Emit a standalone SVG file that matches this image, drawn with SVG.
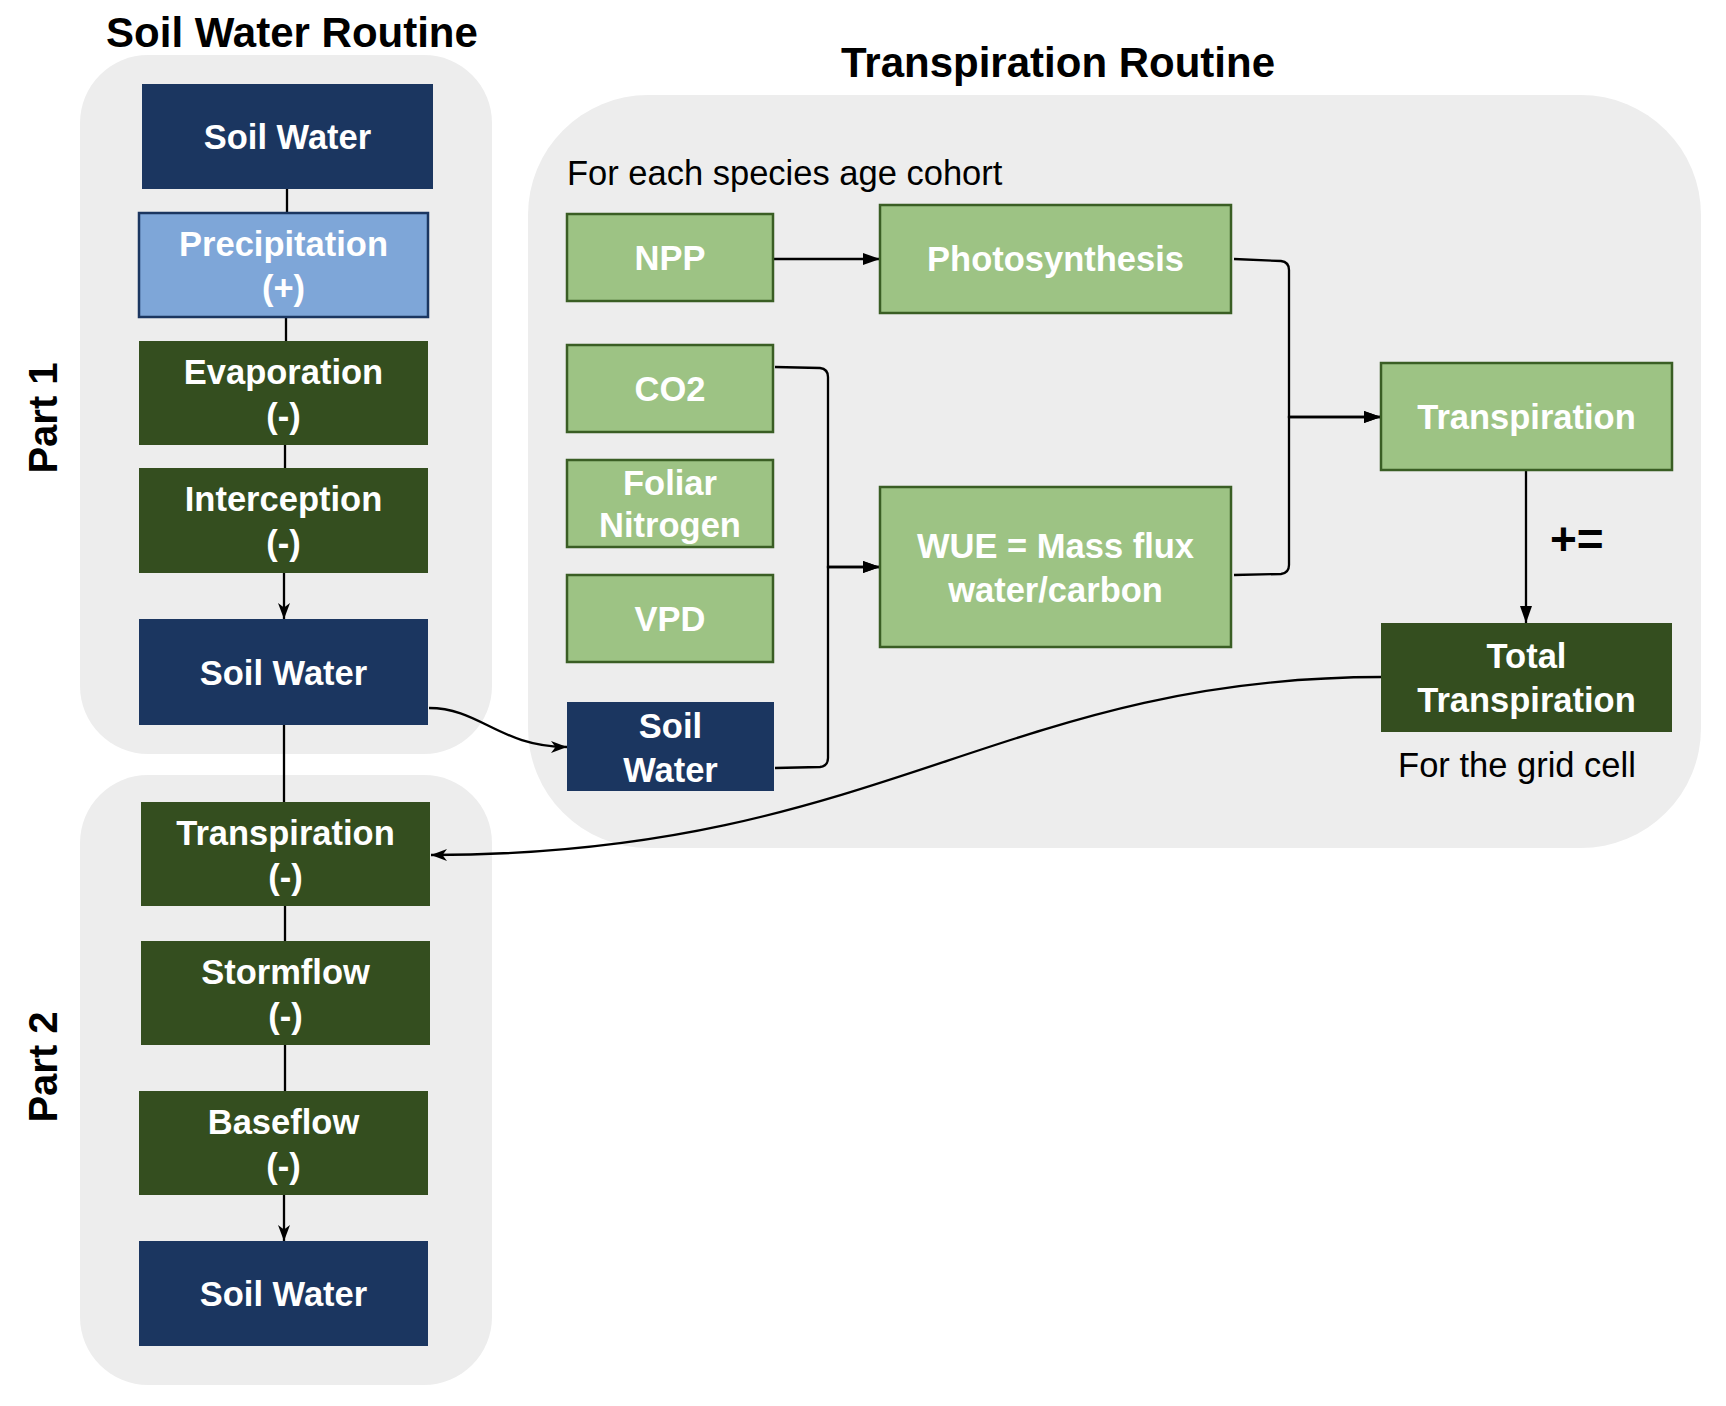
<svg xmlns="http://www.w3.org/2000/svg" width="1726" height="1406" viewBox="0 0 1726 1406">
<style>
.panel{fill:#ededed}
.title{font-family:"Liberation Sans",Arial,sans-serif;font-weight:bold;font-size:42px;fill:#000;text-anchor:middle}
.part{font-family:"Liberation Sans",Arial,sans-serif;font-weight:bold;font-size:40px;fill:#000;text-anchor:middle}
.note{font-family:"Liberation Sans",Arial,sans-serif;font-size:34.5px;fill:#000}
.lbl{font-family:"Liberation Sans",Arial,sans-serif;font-weight:bold;font-size:34.5px;fill:#fff;text-anchor:middle}
.navy{fill:#1b3660}
.lblue{fill:#7ea6d8;stroke:#1b3660;stroke-width:2.5}
.dgreen{fill:#344e1f}
.lgreen{fill:#9dc384;stroke:#3a5e24;stroke-width:2.5}
.edge{fill:none;stroke:#000;stroke-width:2.3}
</style>
<defs>
<marker id="block" markerUnits="userSpaceOnUse" markerWidth="17" markerHeight="12" refX="17" refY="6" orient="auto"><path d="M0,0 L17,6 L0,12 z" fill="#000"/></marker>
<marker id="classic" markerUnits="userSpaceOnUse" markerWidth="16" markerHeight="12" refX="16" refY="6" orient="auto"><path d="M0,0 L16,6 L0,12 L4.5,6 z" fill="#000"/></marker>
</defs>
<rect width="1726" height="1406" fill="#fff"/>
<g id="panels">
<rect class="panel" x="80" y="55" width="412" height="699" rx="68"/>
<rect class="panel" x="80" y="775" width="412" height="610" rx="68"/>
<rect class="panel" x="528" y="95" width="1173" height="753" rx="120"/>
</g>
<g id="labels">
<text class="title" x="292" y="47">Soil Water Routine</text>
<text class="title" x="1058" y="77">Transpiration Routine</text>
<text class="part" transform="translate(57,418) rotate(-90)">Part 1</text>
<text class="part" transform="translate(57,1067) rotate(-90)">Part 2</text>
<text class="note" x="567" y="185">For each species age cohort</text>
<text class="note" x="1517" y="777" text-anchor="middle">For the grid cell</text>
<text x="1550" y="555" style="font-family:'Liberation Sans',Arial,sans-serif;font-weight:bold;font-size:46px;fill:#000">+=</text>
</g>
<g id="connectors">
<path class="edge" d="M287,189 L287,213"/>
<path class="edge" d="M286,317 L286,341"/>
<path class="edge" d="M285,445 L285,468"/>
<path class="edge" d="M284,573 L284,619" marker-end="url(#classic)"/>
<path class="edge" d="M284,725 L284,802"/>
<path class="edge" d="M285,906 L285,941"/>
<path class="edge" d="M285,1045 L285,1091"/>
<path class="edge" d="M284,1195 L284,1241" marker-end="url(#classic)"/>
<path class="edge" d="M429,708 C480,708 500,747 567,747" marker-end="url(#classic)"/>
<path class="edge" d="M1382,677 C1000,677 880,855 431,855" marker-end="url(#classic)"/>
<path class="edge" d="M773,259 L880,259" marker-end="url(#block)"/>
<path class="edge" d="M775,367 L820,368 Q828,369 828,377 L828,567 L880,567" marker-end="url(#block)"/>
<path class="edge" d="M775,768 L820,767 Q828,766 828,758 L828,567 L880,567" marker-end="url(#block)"/>
<path class="edge" d="M1234,259 L1281,261 Q1289,262 1289,270 L1289,417 L1381,417" marker-end="url(#block)"/>
<path class="edge" d="M1234,575 L1281,574 Q1289,573 1289,565 L1289,417 L1381,417" marker-end="url(#block)"/>
<path class="edge" d="M1526,470 L1526,623" marker-end="url(#block)"/>
</g>
<g id="n-soilwater-1"><rect class="navy" x="142" y="84" width="291" height="105"/><text class="lbl" x="287.5" y="149">Soil Water</text></g>
<g id="n-precipitation"><rect class="lblue" x="139" y="213" width="289" height="104"/><text class="lbl" x="283.5" y="256">Precipitation</text><text class="lbl" x="283.5" y="300">(+)</text></g>
<g id="n-evaporation"><rect class="dgreen" x="139" y="341" width="289" height="104"/><text class="lbl" x="283.5" y="384">Evaporation</text><text class="lbl" x="283.5" y="428">(-)</text></g>
<g id="n-interception"><rect class="dgreen" x="139" y="468" width="289" height="105"/><text class="lbl" x="283.5" y="511">Interception</text><text class="lbl" x="283.5" y="555">(-)</text></g>
<g id="n-soilwater-2"><rect class="navy" x="139" y="619" width="289" height="106"/><text class="lbl" x="283.5" y="685">Soil Water</text></g>
<g id="n-transpiration-minus"><rect class="dgreen" x="141" y="802" width="289" height="104"/><text class="lbl" x="285.5" y="845">Transpiration</text><text class="lbl" x="285.5" y="889">(-)</text></g>
<g id="n-stormflow"><rect class="dgreen" x="141" y="941" width="289" height="104"/><text class="lbl" x="285.5" y="984">Stormflow</text><text class="lbl" x="285.5" y="1028">(-)</text></g>
<g id="n-baseflow"><rect class="dgreen" x="139" y="1091" width="289" height="104"/><text class="lbl" x="283.5" y="1134">Baseflow</text><text class="lbl" x="283.5" y="1178">(-)</text></g>
<g id="n-soilwater-3"><rect class="navy" x="139" y="1241" width="289" height="105"/><text class="lbl" x="283.5" y="1306">Soil Water</text></g>
<g id="n-npp"><rect class="lgreen" x="567" y="214" width="206" height="87"/><text class="lbl" x="670" y="270">NPP</text></g>
<g id="n-co2"><rect class="lgreen" x="567" y="345" width="206" height="87"/><text class="lbl" x="670" y="401">CO2</text></g>
<g id="n-foliar"><rect class="lgreen" x="567" y="460" width="206" height="87"/><text class="lbl" x="670" y="495">Foliar</text><text class="lbl" x="670" y="537">Nitrogen</text></g>
<g id="n-vpd"><rect class="lgreen" x="567" y="575" width="206" height="87"/><text class="lbl" x="670" y="631">VPD</text></g>
<g id="n-soilwater-right"><rect class="navy" x="567" y="702" width="207" height="89"/><text class="lbl" x="670.5" y="738">Soil</text><text class="lbl" x="670.5" y="782">Water</text></g>
<g id="n-photosynthesis"><rect class="lgreen" x="880" y="205" width="351" height="108"/><text class="lbl" x="1055.5" y="271">Photosynthesis</text></g>
<g id="n-wue"><rect class="lgreen" x="880" y="487" width="351" height="160"/><text class="lbl" x="1055.5" y="558">WUE = Mass flux</text><text class="lbl" x="1055.5" y="602">water/carbon</text></g>
<g id="n-transpiration"><rect class="lgreen" x="1381" y="363" width="291" height="107"/><text class="lbl" x="1526.5" y="429">Transpiration</text></g>
<g id="n-total-transpiration"><rect class="dgreen" x="1381" y="623" width="291" height="109"/><text class="lbl" x="1526.5" y="668">Total</text><text class="lbl" x="1526.5" y="712">Transpiration</text></g>
</svg>
